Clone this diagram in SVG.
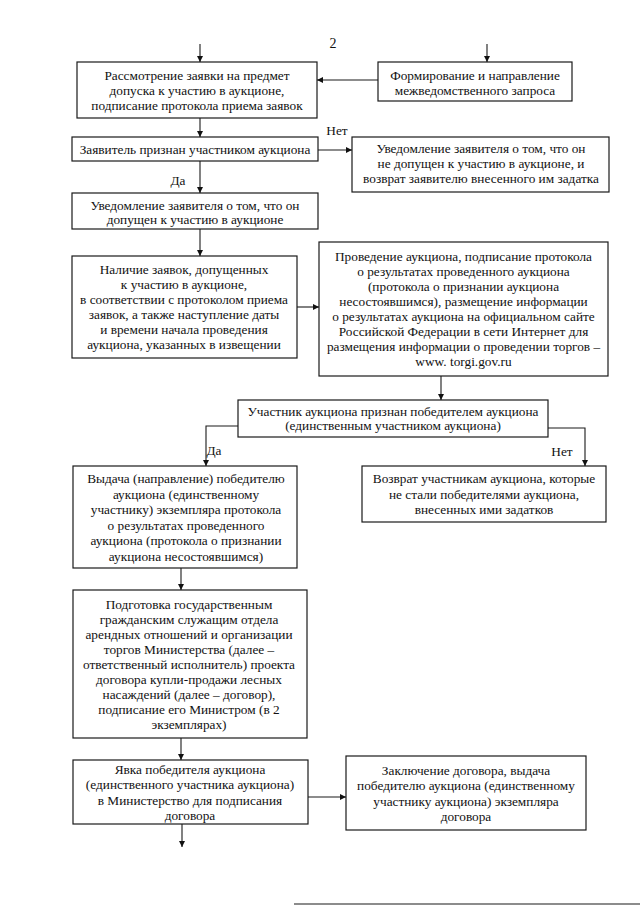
<svg xmlns="http://www.w3.org/2000/svg" width="640" height="905" viewBox="0 0 640 905">
<style>
.box{fill:#fff;stroke:#1a1a1a;stroke-width:1.2}
.t{font-family:"Liberation Serif","Times New Roman",serif;font-size:13.3px;fill:#111;text-anchor:middle}
.lbl{font-family:"Liberation Serif","Times New Roman",serif;font-size:13.3px;fill:#111;text-anchor:middle}
.c{fill:none;stroke:#1a1a1a;stroke-width:1.1;marker-end:url(#ah)}
.pl{fill:none;stroke:#1a1a1a;stroke-width:1.2}
</style>
<defs>
<marker id="ah" viewBox="0 0 10 10" refX="10" refY="5" markerWidth="6" markerHeight="6" markerUnits="userSpaceOnUse" orient="auto">
<path d="M0,0 L10,5 L0,10 z" fill="#111"/>
</marker>
</defs>
<rect width="640" height="905" fill="#fff"/>
<text class="lbl" x="333" y="48" style="font-size:14px">2</text>

<g id="connectors">
<line class="c" x1="200" y1="44" x2="200" y2="62"/>
<line class="c" x1="487" y1="44" x2="487" y2="62"/>
<line class="c" x1="378" y1="80" x2="317" y2="80"/>
<line class="c" x1="200" y1="118" x2="200" y2="137"/>
<line class="c" x1="318" y1="150" x2="352" y2="150"/>
<line class="c" x1="200" y1="161" x2="200" y2="193"/>
<line class="c" x1="200" y1="229" x2="200" y2="256"/>
<line class="c" x1="297" y1="307" x2="319" y2="307"/>
<line class="c" x1="441" y1="376" x2="441" y2="400"/>
<polyline class="c" points="238,426 206,426 206,466"/>
<polyline class="c" points="548,428 585,428 585,466"/>
<line class="c" x1="181" y1="568" x2="181" y2="590"/>
<line class="c" x1="181" y1="738" x2="181" y2="760"/>
<line class="c" x1="308" y1="797" x2="346" y2="797"/>
<line class="c" x1="182" y1="824" x2="182" y2="847"/>
<text class="lbl" x="337" y="135">Нет</text>
<text class="lbl" x="178" y="185">Да</text>
<text class="lbl" x="214" y="455">Да</text>
<text class="lbl" x="562" y="456">Нет</text>
</g>

<g id="nA">
<rect class="box" x="77" y="62" width="240" height="56"/>
<text class="t" x="197" y="79.5">Рассмотрение заявки на предмет</text>
<text class="t" x="197" y="94.5">допуска к участию в аукционе,</text>
<text class="t" x="197" y="109.5">подписание протокола приема заявок</text>
</g>
<g id="nB">
<rect class="box" x="378" y="62" width="194" height="39"/>
<text class="t" x="475" y="79.5">Формирование и направление</text>
<text class="t" x="475" y="95">межведомственного запроса</text>
</g>
<g id="nC">
<rect class="box" x="72" y="137" width="246" height="24"/>
<text class="t" x="195" y="153.7">Заявитель признан участником аукциона</text>
</g>
<g id="nD">
<rect class="box" x="352" y="137" width="257" height="55"/>
<text class="t" x="481" y="153">Уведомление заявителя о том, что он</text>
<text class="t" x="481" y="168">не допущен к участию в аукционе, и</text>
<text class="t" x="481" y="183">возврат заявителю внесенного им задатка</text>
</g>
<g id="nE">
<rect class="box" x="72" y="193" width="246" height="36"/>
<text class="t" x="195" y="209.5">Уведомление заявителя о том, что он</text>
<text class="t" x="195" y="223.5">допущен к участию в аукционе</text>
</g>
<g id="nF">
<rect class="box" x="72" y="256" width="225" height="102"/>
<text class="t" x="184" y="274">Наличие заявок, допущенных</text>
<text class="t" x="184" y="289">к участию в аукционе,</text>
<text class="t" x="184" y="304">в соответствии с протоколом приема</text>
<text class="t" x="184" y="319">заявок, а также наступление даты</text>
<text class="t" x="184" y="334">и времени начала проведения</text>
<text class="t" x="184" y="349">аукциона, указанных в извещении</text>
</g>
<g id="nG">
<rect class="box" x="319" y="242" width="289" height="134"/>
<text class="t" x="463.5" y="261">Проведение аукциона, подписание протокола</text>
<text class="t" x="463.5" y="276">о результатах проведенного аукциона</text>
<text class="t" x="463.5" y="291">(протокола о признании аукциона</text>
<text class="t" x="463.5" y="306">несостоявшимся), размещение информации</text>
<text class="t" x="463.5" y="321">о результатах аукциона на официальном сайте</text>
<text class="t" x="463.5" y="336">Российской Федерации в сети Интернет для</text>
<text class="t" x="463.5" y="351">размещения информации о проведении торгов –</text>
<text class="t" x="463.5" y="366">www. torgi.gov.ru</text>
</g>
<g id="nH">
<rect class="box" x="238" y="400" width="310" height="37"/>
<text class="t" x="393" y="416">Участник аукциона признан победителем аукциона</text>
<text class="t" x="393" y="430">(единственным участником аукциона)</text>
</g>
<g id="nI">
<rect class="box" x="73" y="466" width="224" height="102"/>
<text class="t" x="186" y="483">Выдача (направление) победителю</text>
<text class="t" x="186" y="498.5">аукциона (единственному</text>
<text class="t" x="186" y="514">участнику) экземпляра протокола</text>
<text class="t" x="186" y="529.5">о результатах проведенного</text>
<text class="t" x="186" y="545">аукциона (протокола о признании</text>
<text class="t" x="186" y="560.5">аукциона несостоявшимся)</text>
</g>
<g id="nJ">
<rect class="box" x="362" y="466" width="244" height="56"/>
<text class="t" x="484" y="483">Возврат участникам аукциона, которые</text>
<text class="t" x="484" y="498.5">не стали победителями аукциона,</text>
<text class="t" x="484" y="514">внесенных ими задатков</text>
</g>
<g id="nK">
<rect class="box" x="73" y="590" width="234" height="148"/>
<text class="t" x="189" y="608.5">Подготовка государственным</text>
<text class="t" x="189" y="623.5">гражданским служащим отдела</text>
<text class="t" x="189" y="638.5">арендных отношений и организации</text>
<text class="t" x="189" y="653.5">торгов Министерства (далее –</text>
<text class="t" x="189" y="668.5">ответственный исполнитель) проекта</text>
<text class="t" x="189" y="683.5">договора купли-продажи лесных</text>
<text class="t" x="189" y="698.5">насаждений (далее – договор),</text>
<text class="t" x="189" y="713.5">подписание его Министром (в 2</text>
<text class="t" x="189" y="728.5">экземплярах)</text>
</g>
<g id="nL">
<rect class="box" x="73" y="760" width="235" height="64"/>
<text class="t" x="190" y="773.5">Явка победителя аукциона</text>
<text class="t" x="190" y="789">(единственного участника аукциона)</text>
<text class="t" x="190" y="804.5">в Министерство для подписания</text>
<text class="t" x="190" y="820">договора</text>
</g>
<g id="nM">
<rect class="box" x="346" y="756" width="240" height="74"/>
<text class="t" x="466" y="774.5">Заключение договора, выдача</text>
<text class="t" x="466" y="790">победителю аукциона (единственному</text>
<text class="t" x="466" y="805.5">участнику аукциона) экземпляра</text>
<text class="t" x="466" y="821">договора</text>
</g>
<line class="pl" x1="294" y1="904" x2="640" y2="904"/>
</svg>
